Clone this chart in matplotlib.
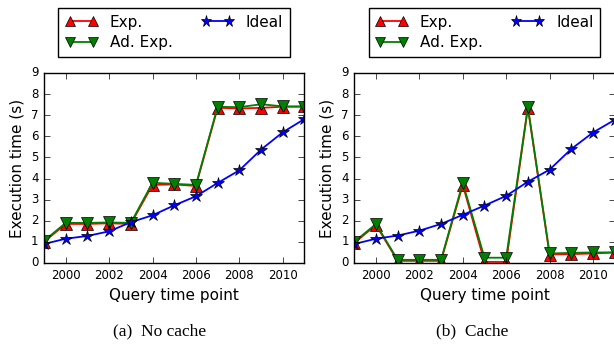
import matplotlib
matplotlib.use("Agg")
import matplotlib.pyplot as plt

years = list(range(1999, 2012))

# (a) no cache
nc_exp = [1.0, 1.85, 1.85, 1.88, 1.85, 3.7, 3.72, 3.65, 7.35, 7.32, 7.35, 7.4, 7.42]
nc_adexp = [1.05, 1.9, 1.9, 1.92, 1.9, 3.8, 3.75, 3.7, 7.4, 7.38, 7.52, 7.42, 7.4]
nc_ideal = [0.9, 1.15, 1.28, 1.5, 1.93, 2.26, 2.73, 3.16, 3.79, 4.39, 5.37, 6.19, 6.82]

# (b) cache
c_exp = [0.95, 1.8, 0.1, 0.1, 0.1, 3.7, 0.05, 0.05, 7.35, 0.4, 0.42, 0.45, 0.5]
c_adexp = [1.0, 1.85, 0.15, 0.15, 0.15, 3.8, 0.25, 0.25, 7.4, 0.45, 0.48, 0.5, 0.5]
c_ideal = [0.9, 1.15, 1.3, 1.53, 1.85, 2.28, 2.72, 3.18, 3.85, 4.42, 5.4, 6.18, 6.78]

xticks = [2000, 2002, 2004, 2006, 2008, 2010]
captions = ["(a)  No cache", "(b)  Cache"]

plt.style.use("classic")
plt.rcParams["axes.formatter.useoffset"] = False
fig = plt.figure(figsize=(6.14, 3.44), dpi=100, facecolor="white")

panels = [(nc_exp, nc_adexp, nc_ideal), (c_exp, c_adexp, c_ideal)]
lefts = [0.0717, 0.577]
caption_x = [0.2606, 0.7687]

for i, (exp, adexp, ideal) in enumerate(panels):
    ax = fig.add_axes([lefts[i], 0.2355, 0.4241, 0.5523])
    ax.plot(years, exp, "-r", marker="^", ms=8, mec="k", lw=1.3, label="Exp.")
    ax.plot(years, adexp, "-g", marker="v", ms=8, mec="k", lw=1.3, label="Ad. Exp.")
    ax.plot(years, ideal, "-b", marker="*", ms=9, mec="k", lw=1.3, label="Ideal")
    ax.set_xlim(1999, 2011)
    ax.set_ylim(0, 9)
    ax.set_xticks(xticks)
    ax.set_yticks(range(10))
    ax.tick_params(labelsize=8.5, direction="in", top=True, right=True, length=4)
    ax.set_xlabel("Query time point", fontsize=11)
    ax.set_ylabel("Execution time (s)", fontsize=11)
    ax.legend(loc="lower center", bbox_to_anchor=(0.5, 1.085), ncol=2, numpoints=2,
              fontsize=11, frameon=True, fancybox=False, borderaxespad=0,
              handlelength=2.1, handletextpad=0.8, columnspacing=1.9,
              borderpad=0.45, labelspacing=0.35, markerscale=0.9)
    fig.text(caption_x[i], 0.0378, captions[i], ha="center", va="center",
             fontsize=12.5, family="Liberation Serif")

fig.savefig("out.png", dpi=100, facecolor="white")
